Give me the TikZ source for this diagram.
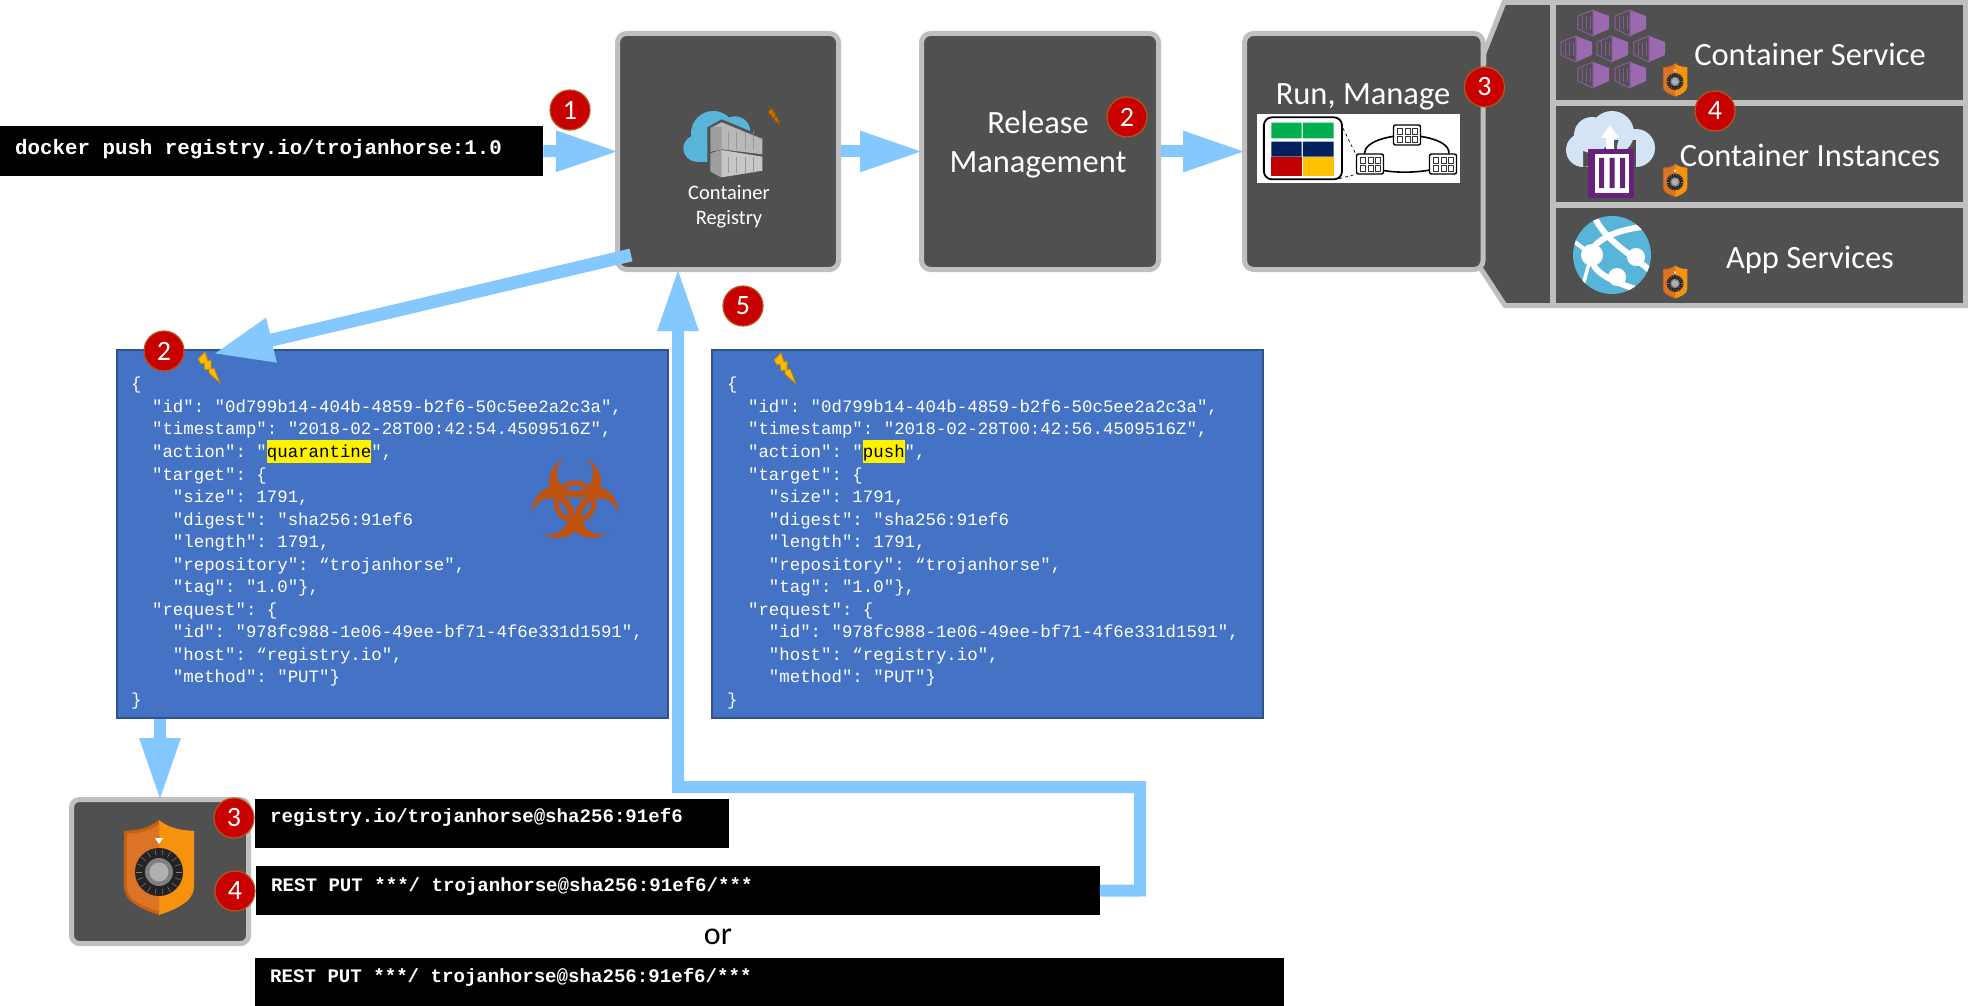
\documentclass[tikz,border=0pt]{standalone}
\usepackage{fontspec}
\setmainfont{Carlito}
\setmonofont{Liberation Mono}
\usetikzlibrary{arrows.meta,calc}
\definecolor{dk}{HTML}{505050}
\definecolor{bd}{HTML}{BFBFBF}
\definecolor{arr}{HTML}{85C7FF}
\definecolor{blu}{HTML}{4472C4}
\definecolor{blud}{HTML}{2F528F}
\definecolor{redc}{HTML}{C80000}
\definecolor{redb}{HTML}{B5561A}
\definecolor{haz}{HTML}{C0520F}
\definecolor{azure}{HTML}{59B4D9}
\definecolor{purp}{HTML}{9B69B0}
\definecolor{purd}{HTML}{68217A}
\newcommand{\hlword}[1]{\smash{\setlength{\fboxsep}{0pt}\colorbox{yellow}{\rule[-6pt]{0pt}{23.5pt}\textcolor{black}{#1}}}}
\newcommand{\jsontext}[3]{%
\{\\
~~"id": "0d799b14-404b-4859-b2f6-50c5ee2a2c3a",\\
~~"timestamp": "2018-02-28T00:42:#1.4509516Z",\\
~~"action": "\hlword{#2}",\\
~~"target": \{\\
~~~~"size": 1791,\\
~~~~"digest": "sha256:91ef6\\
~~~~"length": 1791,\\
~~~~"repository": “trojanhorse",\\
~~~~"tag": "1.0"\},\\
~~"request": \{\\
~~~~"id": "978fc988-1e06-49ee-bf71-4f6e331d1591",\\
~~~~"host": “registry.io",\\
~~~~"method": "PUT"\}\\
\}}
\tikzset{
 panelbox/.style={draw=bd,fill=dk,line width=5pt,rounded corners=9pt,inner sep=0pt},
 subpanel/.style={draw=bd,fill=dk,line width=5.5pt,inner sep=0pt,minimum width=412.5pt},
 jsonbox/.style={draw=blud,fill=blu,line width=2pt,inner sep=0pt,minimum width=551pt,minimum height=368pt},
 jsontxt/.style={anchor=north west,inner sep=0pt,align=left,text=white,font=\ttfamily\fontsize{17.4}{22.55}\selectfont},
 barbox/.style={fill=black,inner sep=0pt,anchor=north west},
 bartxt/.style={anchor=base west,inner sep=0pt,text=white,font=\ttfamily\bfseries\fontsize{19.1}{22}\selectfont},
 badge/.style={circle,fill=redc,draw=redb,line width=1.2pt,minimum size=40pt,inner sep=0pt,text=white,font=\fontsize{28}{30}\selectfont},
 lab/.style={inner sep=0pt,text=white,align=center,font=\fontsize{32.5}{39}\selectfont},
 fat/.style={draw=arr,line width=12pt,shorten >=-4pt,-{Triangle[length=63pt,width=38pt]}},
 bolt/.pic={\filldraw[fill=#1,draw=#1!75!black,line width=.8pt] (0,7)--(7,0)--(10,9)--(13,8)--(13,17)--(16,16)--(22,31)--(11,21)--(11,17)--(7,18)--(6,11)--(3,12)--cycle;},
 shieldicon/.pic={
  \fill[color={rgb,255:red,247;green,146;blue,15}] (0,-52)..controls (10,-44) and (20,-42) ..(35,-41)--(35,15).. controls (35,30) and (15,38) .. (0,43)--cycle;
  \fill[color={rgb,255:red,196;green,98;blue,20}] (0,-52)..controls (-10,-44) and (-20,-42) ..(-35,-41)--(-35,15).. controls (-35,30) and (-15,38) .. (0,43)--cycle;
  \fill[color={rgb,255:red,221;green,115;blue,38}] (0,-48)..controls (-10,-40) and (-20,-39) ..(-32,-38)--(-32,15).. controls (-32,28) and (-15,35) .. (0,39)--cycle;
  \fill[color={rgb,255:red,35;green,35;blue,35}] (0,0) circle[radius=24];
  \foreach \a in {0,20,...,340}{\draw[color=gray,line width=.5pt] (\a:17)--(\a:23);}
  \fill[color=gray] (0,0) circle[radius=14];
  \fill[color={rgb,255:red,176;green,176;blue,178}] (0,0) circle[radius=9.5];
  \fill[white] (-4,-34)--(4,-34)--(0,-28)--cycle;
 },
 hexbox/.pic={
  \fill[purp] (0,-13)--(16,-7)--(16,6)--(0,13)--cycle;
  \draw[color=purp!85!black,line width=1.1pt] (0,-13)--(-15,-7)--(-15,6)--(0,13)--cycle;
  \foreach \x in {-11,-7,-3}{\draw[color=purp!85!black,line width=1pt] (\x,-7)--(\x,7);}
 },
 netcell/.pic={
  \filldraw[fill=white,draw=black,line width=1.4pt,rounded corners=2pt] (-13.5,-10) rectangle (13.5,10);
  \foreach \x in {-9.5,-2,5.5}{\foreach \y in {-7,1}{\draw[color=black!80,line width=.9pt] (\x,\y) rectangle ++(5,6);}}
 },
}
\begin{document}
\begin{tikzpicture}[x=1pt,y=-1pt]
\useasboundingbox (0,0) rectangle (1968,1006);

% right panel
\filldraw[draw=bd,fill=dk,line width=5pt,line join=miter] (1484,53)--(1504,2.5)--(1965.5,2.5)--(1965.5,305.5)--(1505,305.5)--(1479,266)--cycle;
\node[subpanel,minimum height=100.5pt] (p1) at (1759.25,52.75) {};
\node[subpanel,minimum height=102pt] (p2) at (1759.25,154) {};
\node[subpanel,minimum height=100.5pt] (p3) at (1759.25,255.25) {};

% main boxes
\node[panelbox,minimum width=221pt,minimum height=236pt] (cr) at (728,151.5) {};
\node[panelbox,minimum width=237pt,minimum height=236pt] (rm) at (1040,151.5) {};
\node[panelbox,minimum width=238.5pt,minimum height=236pt] (run) at (1363.75,151.5) {};
\node[panelbox,minimum width=177pt,minimum height=144pt,rounded corners=8pt] (sb) at (160,871.5) {};
\node[jsonbox] (jb) at (392,534) {};
\node[jsonbox] (jc) at (987.5,534) {};

% labels
\node[inner sep=0pt,text=white,align=center,font=\fontsize{20.5}{25}\selectfont] (crt) at (729,207) {Container\\Registry};
\node[lab] (rmt) at (1038,145) {Release\\Management};
\node[lab] (runt) at (1363,96.5) {Run, Manage};
\node[lab] (cst) at (1810,54) {Container Service};
\node[lab] (cit) at (1810,155) {Container Instances};
\node[lab] (ast) at (1810,259.5) {App Services};

% registry icon
\begin{scope}[shift={(600,20)},scale=1/3]
 \fill[azure] (290,385) circle[radius=40];
 \fill[azure] (340,340) circle[radius=67];
 \fill[azure] (405,335) circle[radius=46];
 \fill[azure] (290,350) rectangle (430,425);
 \fill[color=dk] (322,430)--(322,322)--(365,298)--(495,352)--(495,480)--(322,480)--cycle;
 \fill[color=black!28] (332,322)--(365,305)--(487,355)--(487,403)--(365,388)--(332,395)--cycle;
 \fill[color=black!22] (332,400)--(365,390)--(487,410)--(487,452)--(365,472)--(332,455)--cycle;
 \fill[color=black!38] (332,322)--(365,320)--(365,388)--(332,395)--cycle;
 \fill[color=black!38] (332,400)--(365,390)--(365,472)--(332,455)--cycle;
 \foreach \x in {385,410,435,460}{\draw[color=black!40,line width=.7pt] (\x,335)--(\x,390) (\x,410)--(\x,460);}
 \draw[color=black!65,line width=1pt] (332,322)--(365,305)--(487,355);
\end{scope}
\pic[scale=.55] at (768,108) {bolt={orange!90!yellow!80!black}};
\pic at (198,352) {bolt={orange!55!yellow}};
\pic at (774,353) {bolt={orange!55!yellow}};

% run image
\begin{scope}[shift={(1230,0)},xscale=.4706,yscale=1/3]
 \fill[white] (57,342) rectangle (489,548);
 \draw[black,line width=1.8pt,rounded corners=8pt] (72,352) rectangle (238,538);
 \fill[color={rgb,255:red,0;green,176;blue,80}] (88,368) rectangle (152,415) (155,368) rectangle (220,415);
 \fill[color={rgb,255:red,0;green,32;blue,96}] (88,425) rectangle (152,470) (155,425) rectangle (220,470);
 \fill[color={rgb,255:red,192;green,0;blue,0}] (88,472) rectangle (152,527);
 \fill[color={rgb,255:red,255;green,192;blue,0}] (155,472) rectangle (220,527);
 \draw[black,dashed,line width=.7pt] (240,385)--(268,465) (232,536)--(270,522);
 \draw[black,line width=1.6pt] (377,405) .. controls (300,410) and (265,450) .. (298,492);
 \draw[black,line width=1.6pt] (377,405) .. controls (440,410) and (490,440) .. (452,492);
 \draw[black,line width=1.6pt] (298,500) .. controls (330,522) and (410,522) .. (452,500);
\end{scope}
\pic at (1407,135) {netcell};
\pic at (1370,164) {netcell};
\pic at (1443,164) {netcell};

% container service icon
\foreach \hx/\hy in {1593/23,1630/23,1576/49,1612/49,1649/49,1593/75,1630/75}{\pic at (\hx,\hy) {hexbox};}

% container instances icon
\fill[color={rgb,255:red,212;green,228;blue,245}] (1583,150) circle[radius=17] (1592,135) circle[radius=18] (1612,133) circle[radius=22] (1636,148) circle[radius=19] (1583,140) rectangle (1636,167);
\fill[white] (1610,125)--(1619,138)--(1614,138)--(1614,152)--(1606,152)--(1606,138)--(1601,138)--cycle;
\fill[purd] (1588,149) rectangle (1634,198);
\fill[white] (1595,154) rectangle (1629,193);
\fill[purd] (1599,158) rectangle (1604,188) (1609.5,158) rectangle (1614.5,188) (1620,158) rectangle (1625,188);

% app services icon
\fill[azure] (1612,255) circle[radius=39];
\begin{scope}
 \clip (1612,255) circle[radius=39];
 \draw[white,line width=6pt] (1594,216) .. controls (1605,240) and (1625,250) .. (1652,272);
 \draw[white,line width=6pt] (1590,252) .. controls (1600,235) and (1625,228) .. (1652,226);
 \draw[white,line width=4pt] (1572,240)--(1592,255);
 \draw[white,line width=6pt] (1592,255) .. controls (1590,270) and (1605,280) .. (1645,292);
 \draw[white,line width=3.5pt] (1590,260)--(1583,285);
 \fill[white] (1592,255) circle[radius=11];
 \fill[white] (1636,257) circle[radius=9];
 \fill[white] (1617,277) circle[radius=9];
\end{scope}

% small shields
\pic[scale=.35] at (1675,81.5) {shieldicon};
\pic[scale=.35] at (1675,182) {shieldicon};
\pic[scale=.35] at (1675,283.5) {shieldicon};
\pic at (159,872) {shieldicon};

% biohazard
\begin{scope}[shift={(575,502)}]
 \foreach \a in {-90,30,150}{\fill[haz] (\a:20) circle[radius=26];}
 \foreach \a in {-90,30,150}{\fill[blu] (\a:29) circle[radius=18];}
 \foreach \a in {-90,30,150}{\draw[haz,line width=5pt] (\a-36:19) arc[start angle=\a-36,end angle=\a+36,radius=19];}
 \foreach \a in {-30,90,210}{\draw[blu,line width=2pt] (\a:4)--(\a:12);}
 \fill[blu] (0,0) circle[radius=5.5];
\end{scope}

% json
\node[jsontxt] (jt1) at (131,377) {\jsontext{54}{quarantine}{}};
\node[jsontxt] (jt2) at (727,377) {\jsontext{56}{push}{}};

% black bars
\node[barbox,minimum width=543pt,minimum height=50pt] (dp) at (0,126) {};
\node[bartxt,font=\ttfamily\bfseries\fontsize{20.8}{24}\selectfont] (dpt) at (15,154) {docker push registry.io/trojanhorse:1.0};
\node[barbox,minimum width=474pt,minimum height=49pt] (b2) at (255,799) {};
\node[bartxt] (b2t) at (270,822) {registry.io/trojanhorse@sha256:91ef6};
\node[barbox,minimum width=843.5pt,minimum height=49pt] (b3) at (256,866) {};
\node[bartxt] (b3t) at (271,891) {REST PUT ***/ trojanhorse@sha256:91ef6/***};
\node[barbox,minimum width=1029pt,minimum height=48pt] (b4) at (255,958) {};
\node[bartxt] (b4t) at (270,982) {REST PUT ***/ trojanhorse@sha256:91ef6/***};
\node[inner sep=0pt,font=\fontsize{32}{34}\selectfont] (ort) at (718,937) {or};

% connectors
\coordinate (a4s) at (631,255);
\coordinate (a4e) at (217,353);
\coordinate (a5a) at (1140,890.5);
\coordinate (a5b) at (1140,787);
\coordinate (a5c) at (678,787);
\draw[fat] (dp.east) -- (cr.west);
\draw[fat] (cr.east) -- (rm.west);
\draw[fat] (rm.east) -- (run.west);
\draw[fat,line width=13pt,-{Triangle[length=60pt,width=42pt]}] (a4s) -- (a4e);
\draw[fat,line join=miter] (b3.east) -- (a5a) -- (a5b) -- (a5c) -- (a5c |- cr.south);
\draw[fat] (sb.north |- jb.south) -- (sb.north);

% badges
\node[badge] (n1) at (570,110) {1};
\node[badge] (n2a) at (1127,117) {2};
\node[badge] (n3a) at (1484.5,87) {3};
\node[badge] (n4a) at (1715,111) {4};
\node[badge] (n5) at (743,306) {5};
\node[badge] (n2b) at (164,351) {2};
\node[badge] (n3b) at (234,818) {3};
\node[badge] (n4b) at (235,891) {4};
\end{tikzpicture}
\end{document}
